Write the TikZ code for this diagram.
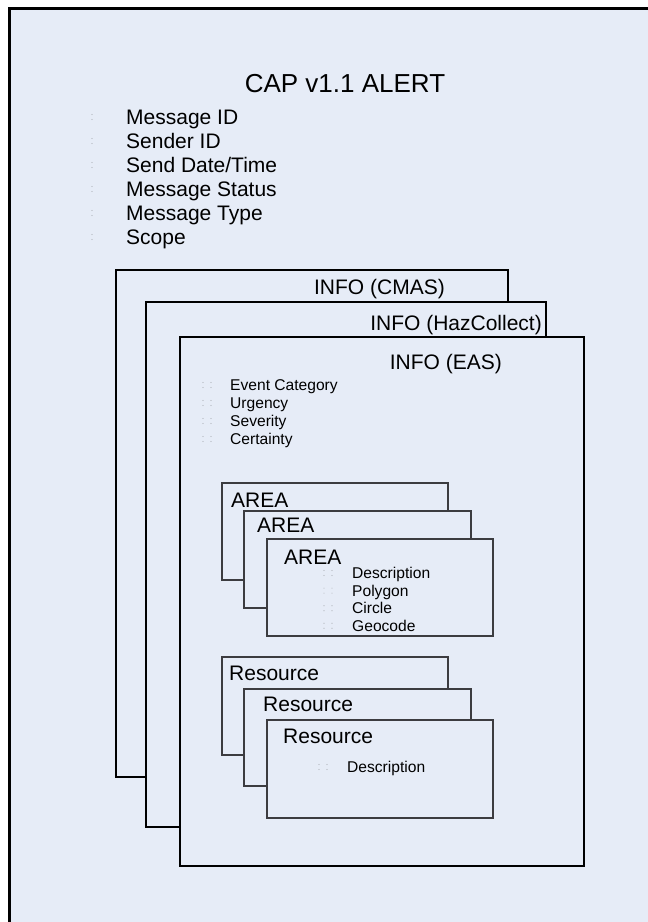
\documentclass[tikz,border=0pt]{standalone}
\usepackage{fontspec}
\setmainfont{Liberation Sans}
\definecolor{capfill}{RGB}{230,236,247}
\definecolor{subline}{RGB}{60,60,64}
\definecolor{dotgray}{RGB}{175,178,185}

\begin{document}
\begin{tikzpicture}[x=1pt,y=-1pt,
    infobox/.style={draw=black,line width=2pt,fill=capfill},
    subbox/.style={draw=subline,line width=1.3pt,fill=capfill},
    big/.style={inner sep=0pt,font=\fontsize{26}{30}\selectfont},
    mid/.style={inner sep=0pt,font=\fontsize{21}{25}\selectfont},
    small/.style={inner sep=0pt,font=\fontsize{15.6}{19}\selectfont},
    dot/.style={fill=dotgray,draw=none}]
                    \useasboundingbox (0,0) rectangle (648,922);
                    \clip (0,0) rectangle (648,922);
                    \fill [white] (0,0) rectangle (648,922);
                    % outer alert box
                    \draw [black,line width=3pt,fill=capfill] (9.5,8) rectangle (720,1000);
                    \node [big,anchor=base] (title) at (345,92.7) {CAP v1.1 ALERT};
                    \node [mid,anchor=base west] (msgid) at (126,124.5) {Message ID};
                    \node [mid,anchor=base west] (sender) at (126,148.5) {Sender ID};
                    \node [mid,anchor=base west] (senddate) at (126,172.5) {Send Date/Time};
                    \node [mid,anchor=base west] (status) at (126,196.5) {Message Status};
                    \node [mid,anchor=base west] (msgtype) at (126,220.5) {Message Type};
                    \node [mid,anchor=base west] (scope) at (126,244.5) {Scope};
                    \foreach \yy in {117,141,165,189,213,237} {
                        \fill [dot] (92,\yy-2.5) circle (0.6);
                        \fill [dot] (92,\yy+2.5) circle (0.6);
                    }
                    % info blocks
                    \draw [infobox] (116,270) rectangle (508,777);
                    \node [mid,anchor=base east] (cmas) at (445,294.5) {INFO (CMAS)};
                    \draw [infobox] (146,302) rectangle (546,827);
                    \node [mid,anchor=base east] (haz) at (542,330.5) {INFO (HazCollect)};
                    \draw [infobox] (180,337) rectangle (584,866);
                    \node [mid,anchor=base east] (eas) at (502,369.5) {INFO (EAS)};
                    \node [small,anchor=base west] (evcat) at (230,390.6) {Event Category};
                    \node [small,anchor=base west] (urgency) at (230,408.6) {Urgency};
                    \node [small,anchor=base west] (severity) at (230,426.6) {Severity};
                    \node [small,anchor=base west] (certainty) at (230,444.6) {Certainty};
                    \foreach \yy in {385,403,421,439} {
                        \foreach \xx in {203,211} {
                            \fill [dot] (\xx,\yy-2.5) circle (0.6);
                            \fill [dot] (\xx,\yy+2.5) circle (0.6);
                        }
                    }
                    % area blocks
                    \draw [subbox] (222,483) rectangle (448,580);
                    \node [mid,anchor=base west] (areaone) at (231,507.5) {AREA};
                    \draw [subbox] (244,511) rectangle (471,608);
                    \node [mid,anchor=base west] (areatwo) at (257,532.5) {AREA};
                    \draw [subbox] (267,539) rectangle (493,636);
                    \node [mid,anchor=base west] (areathree) at (284,564.5) {AREA};
                    \node [small,anchor=base west] (areadesc) at (352,578.6) {Description};
                    \node [small,anchor=base west] (polygon) at (352,596.2) {Polygon};
                    \node [small,anchor=base west] (circle) at (352,613.8) {Circle};
                    \node [small,anchor=base west] (geocode) at (352,631.4) {Geocode};
                    \foreach \yy in {573,590.6,608.2,625.8} {
                        \foreach \xx in {324,332} {
                            \fill [dot] (\xx,\yy-2.5) circle (0.6);
                            \fill [dot] (\xx,\yy+2.5) circle (0.6);
                        }
                    }
                    % resource blocks
                    \draw [subbox] (222,657) rectangle (448,755);
                    \node [mid,anchor=base west] (resone) at (229,680.5) {Resource};
                    \draw [subbox] (244,689) rectangle (471,786);
                    \node [mid,anchor=base west] (restwo) at (263,711.5) {Resource};
                    \draw [subbox] (267,720) rectangle (493,818);
                    \node [mid,anchor=base west] (resthree) at (283,743.5) {Resource};
                    \node [small,anchor=base west] (resdesc) at (347,772.6) {Description};
                    \foreach \xx in {319,327} {
                        \fill [dot] (\xx,767-2.5) circle (0.6);
                        \fill [dot] (\xx,767+2.5) circle (0.6);
                    }
                \end{tikzpicture}
\end{document}
